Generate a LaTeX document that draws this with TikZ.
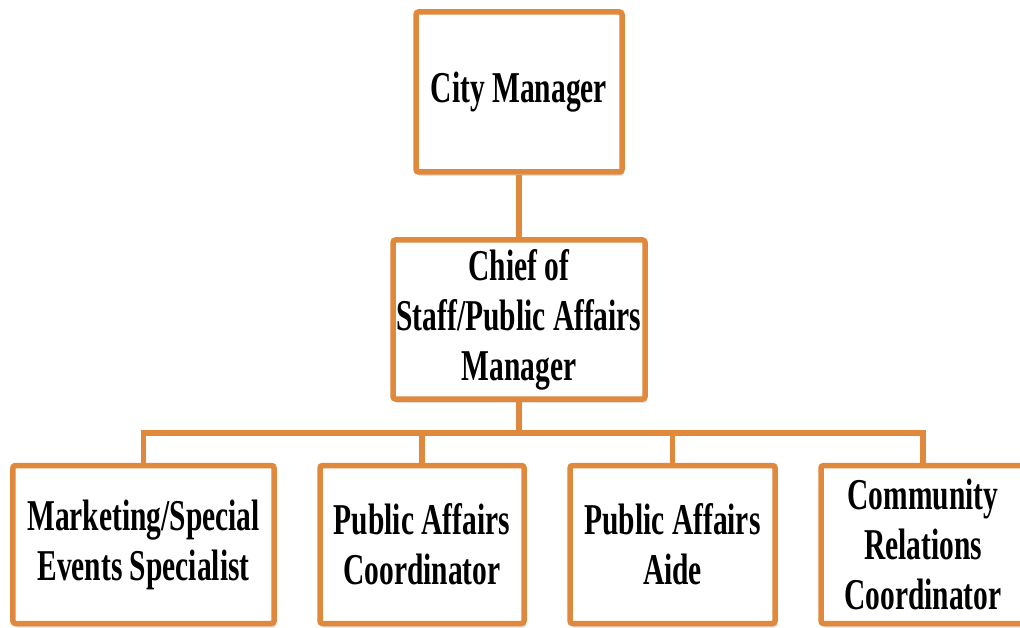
\documentclass[tikz,border=0pt]{standalone}
\usepackage{fontspec}
\setmainfont{Liberation Serif}[FakeStretch=0.67]
\usepackage{tikz}
\usetikzlibrary{shadows}
\definecolor{orgorange}{HTML}{E0883C}
\tikzset{
	BX/.style={draw=orgorange, line width=5.5bp, fill=white, rounded corners=2.5bp,
		minimum width=#1, minimum height=158bp, inner sep=0pt, align=center,
		font=\fontsize{44bp}{50bp}\selectfont\bfseries,
		drop shadow={opacity=0.25, shadow xshift=2bp, shadow yshift=-4bp}}
}
\tikzset{
	LN/.style={draw=orgorange, line width=5.5bp}
}
\begin{document}
\begin{tikzpicture}[x=1bp,y=-1bp]
		\useasboundingbox (0,0) rectangle (1020,628);
		%top levels
		\node[BX=206bp, minimum height=160bp] (boss) at (519,92) {City Manager};
		\node[BX=252bp, minimum height=159bp] (chief) at (519,319.5) {Chief of\\Staff/Public Affairs\\Manager};
		%bottom row
		\node[BX=261bp] (mkt) at (143.5,544.5) {Marketing/Special\\Events Specialist};
		\node[BX=204bp] (pac) at (422,544.5) {Public Affairs\\Coordinator};
		\node[BX=205bp] (paa) at (672.5,544.5) {Public Affairs\\Aide};
		\node[BX=204bp] (crc) at (923,544.5) {Community\\Relations\\Coordinator};
		\coordinate (bus) at (519,433);
		\draw[LN] (boss) -- (chief);
		\draw[LN] (chief.south) -- (bus);
		\draw[LN] (mkt.north) -- (mkt.north |- bus) -- (crc.north |- bus) -- (crc.north);
		\foreach \b in {pac,paa}{
			\draw[LN] (\b.north) -- (\b.north |- bus);
		}
\end{tikzpicture}
\end{document}
